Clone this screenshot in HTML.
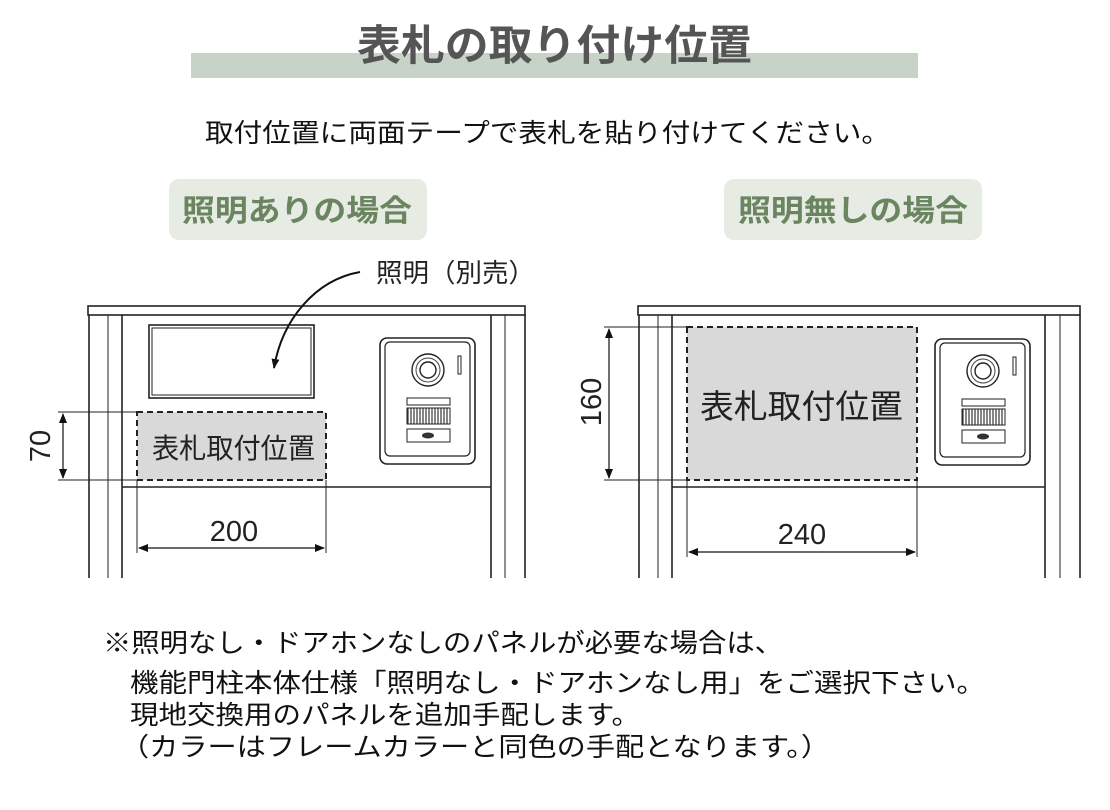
<!DOCTYPE html>
<html><head><meta charset="utf-8"><style>
html,body{margin:0;padding:0;background:#fff;}
svg{display:block;}
text{font-family:"Liberation Sans","Noto Sans CJK JP",sans-serif;}
.j{font-family:"Noto Sans CJK JP","Liberation Sans",sans-serif;}
</style></head><body>
<svg width="1110" height="810" viewBox="0 0 1110 810" xmlns="http://www.w3.org/2000/svg">
<defs>
<marker id="ah" markerWidth="10" markerHeight="8" refX="9" refY="4" orient="auto" markerUnits="userSpaceOnUse"><path d="M0,0 L10,4 L0,8 z" fill="#111"/></marker>
<marker id="ahs" markerWidth="10" markerHeight="8" refX="1" refY="4" orient="auto" markerUnits="userSpaceOnUse"><path d="M10,0 L0,4 L10,8 z" fill="#111"/></marker>
<g id="intercom">
<rect x="0" y="0" width="95" height="126" rx="7" fill="#fff" stroke="#222" stroke-width="1.6"/>
<rect x="5" y="4" width="85" height="114" rx="5" fill="none" stroke="#222" stroke-width="1.2"/>
<circle cx="48" cy="32" r="16" fill="none" stroke="#222" stroke-width="1.4"/>
<circle cx="48" cy="32" r="12" fill="none" stroke="#444" stroke-width="1"/>
<circle cx="48" cy="32" r="8" fill="none" stroke="#222" stroke-width="1.4"/>
<rect x="78" y="18" width="3" height="18" fill="none" stroke="#222" stroke-width="1"/>
<rect x="27" y="60" width="43" height="7" fill="none" stroke="#222" stroke-width="1"/>
<g stroke="#333" stroke-width="1.2">
<line x1="28" y1="70" x2="28" y2="86"/><line x1="31" y1="70" x2="31" y2="86"/><line x1="34" y1="70" x2="34" y2="86"/><line x1="37" y1="70" x2="37" y2="86"/><line x1="40" y1="70" x2="40" y2="86"/><line x1="43" y1="70" x2="43" y2="86"/><line x1="46" y1="70" x2="46" y2="86"/><line x1="49" y1="70" x2="49" y2="86"/><line x1="52" y1="70" x2="52" y2="86"/><line x1="55" y1="70" x2="55" y2="86"/><line x1="58" y1="70" x2="58" y2="86"/><line x1="61" y1="70" x2="61" y2="86"/><line x1="64" y1="70" x2="64" y2="86"/><line x1="67" y1="70" x2="67" y2="86"/>
</g>
<rect x="27" y="70" width="43" height="16" fill="none" stroke="#222" stroke-width="1"/>
<rect x="27" y="91" width="43" height="13" fill="none" stroke="#222" stroke-width="1"/>
<ellipse cx="48" cy="97.5" rx="6" ry="3" fill="#333"/>
</g>
</defs>

<!-- Title -->
<rect x="191" y="53" width="727" height="25" fill="#c8d3c7"/>
<text class="j" x="357" y="60" font-size="42" font-weight="bold" fill="#555" textLength="395" lengthAdjust="spacingAndGlyphs">表札の取り付け位置</text>
<text class="j" x="205" y="142" font-size="26" fill="#111" textLength="685" lengthAdjust="spacingAndGlyphs">取付位置に両面テープで表札を貼り付けてください。</text>

<rect x="169" y="179" width="258" height="61" rx="10" fill="#e6ebe3"/>
<text class="j" x="182" y="221" font-size="30" font-weight="bold" fill="#6b8560" textLength="230" lengthAdjust="spacingAndGlyphs">照明ありの場合</text>
<rect x="724" y="179" width="258" height="61" rx="10" fill="#e6ebe3"/>
<text class="j" x="738" y="221" font-size="30" font-weight="bold" fill="#6b8560" textLength="230" lengthAdjust="spacingAndGlyphs">照明無しの場合</text>

<!-- Left diagram -->
<g stroke="#222" fill="none" stroke-width="1.6">
<rect x="88" y="306" width="437" height="9" fill="#fff"/>
<line x1="89" y1="315" x2="89" y2="578"/>
<line x1="108" y1="315" x2="108" y2="578" stroke-width="1"/>
<line x1="122" y1="315" x2="122" y2="578"/>
<line x1="491" y1="315" x2="491" y2="578"/>
<line x1="505" y1="315" x2="505" y2="578" stroke-width="1"/>
<line x1="525" y1="315" x2="525" y2="578"/>
<line x1="122" y1="487" x2="491" y2="487"/>
<rect x="149" y="325" width="165" height="73"/>
<rect x="152" y="328" width="159" height="67" stroke-width="1"/>
</g>
<rect x="137" y="412" width="189" height="68" fill="#d9d9d9" stroke="#222" stroke-width="2" stroke-dasharray="6,4"/>
<text class="j" x="152" y="458" font-size="28" fill="#222" textLength="163" lengthAdjust="spacingAndGlyphs">表札取付位置</text>
<path d="M360,272 C315,280 282,320 274,368" fill="none" stroke="#111" stroke-width="2" marker-end="url(#ah)"/>
<text class="j" x="376" y="282" font-size="26" fill="#222" textLength="159" lengthAdjust="spacingAndGlyphs">照明（別売）</text>
<use href="#intercom" x="380" y="338"/>
<g stroke="#222" stroke-width="1">
<line x1="58" y1="412" x2="137" y2="412"/>
<line x1="58" y1="480" x2="137" y2="480"/>
<line x1="137" y1="480" x2="137" y2="553"/>
<line x1="326" y1="480" x2="326" y2="553"/>
</g>
<line x1="63" y1="414" x2="63" y2="478" stroke="#111" stroke-width="1.2" marker-start="url(#ahs)" marker-end="url(#ah)"/>
<line x1="139" y1="548" x2="324" y2="548" stroke="#111" stroke-width="1.2" marker-start="url(#ahs)" marker-end="url(#ah)"/>
<text transform="translate(50,446) rotate(-90)" text-anchor="middle" font-size="29" fill="#222">70</text>
<text x="234" y="541" text-anchor="middle" font-size="29" fill="#222">200</text>

<!-- Right diagram -->
<g stroke="#222" fill="none" stroke-width="1.6">
<rect x="638" y="306" width="442" height="9" fill="#fff"/>
<line x1="639" y1="315" x2="639" y2="578"/>
<line x1="658" y1="315" x2="658" y2="578" stroke-width="1"/>
<line x1="672" y1="315" x2="672" y2="578"/>
<line x1="1045" y1="315" x2="1045" y2="578"/>
<line x1="1060" y1="315" x2="1060" y2="578" stroke-width="1"/>
<line x1="1080" y1="315" x2="1080" y2="578"/>
<line x1="672" y1="487" x2="1045" y2="487"/>
</g>
<rect x="687" y="327" width="230" height="153" fill="#d9d9d9" stroke="#222" stroke-width="2" stroke-dasharray="6,4"/>
<text class="j" x="700" y="418" font-size="33" fill="#222" textLength="203" lengthAdjust="spacingAndGlyphs">表札取付位置</text>
<use href="#intercom" x="935" y="339"/>
<g stroke="#222" stroke-width="1">
<line x1="604" y1="327" x2="687" y2="327"/>
<line x1="604" y1="480" x2="687" y2="480"/>
<line x1="687" y1="480" x2="687" y2="557"/>
<line x1="917" y1="480" x2="917" y2="557"/>
</g>
<line x1="609" y1="329" x2="609" y2="478" stroke="#111" stroke-width="1.2" marker-start="url(#ahs)" marker-end="url(#ah)"/>
<line x1="689" y1="552" x2="915" y2="552" stroke="#111" stroke-width="1.2" marker-start="url(#ahs)" marker-end="url(#ah)"/>
<text transform="translate(601,402) rotate(-90)" text-anchor="middle" font-size="29" fill="#222">160</text>
<text x="802" y="544" text-anchor="middle" font-size="29" fill="#222">240</text>

<!-- Notes -->
<g class="j" font-size="26" fill="#111">
<text class="j" x="103" y="652" textLength="680" lengthAdjust="spacingAndGlyphs">※照明なし・ドアホンなしのパネルが必要な場合は、</text>
<text class="j" x="130" y="692" textLength="855" lengthAdjust="spacingAndGlyphs">機能門柱本体仕様「照明なし・ドアホンなし用」をご選択下さい。</text>
<text class="j" x="130" y="724" textLength="510" lengthAdjust="spacingAndGlyphs">現地交換用のパネルを追加手配します。</text>
<text class="j" x="120" y="756" textLength="710" lengthAdjust="spacingAndGlyphs">（カラーはフレームカラーと同色の手配となります。）</text>
</g>
</svg>
</body></html>
